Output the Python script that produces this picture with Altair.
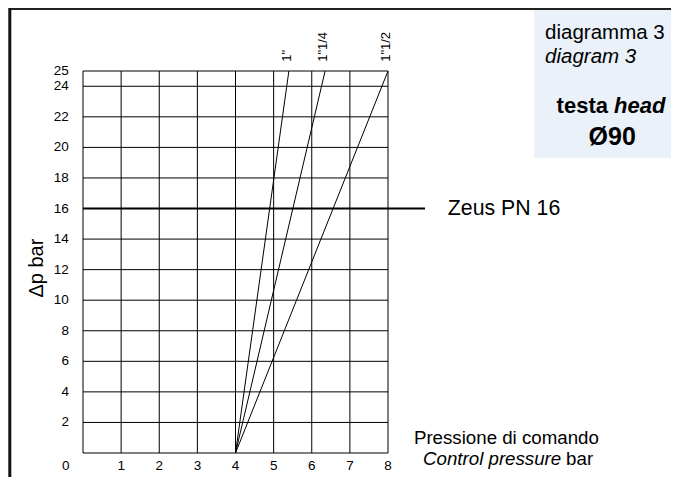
import altair as alt
import pandas as pd

# ---------------- data ----------------
x_grid = [0, 1, 2, 3, 4, 5, 6, 7, 8]
y_grid = [0, 2, 4, 6, 8, 10, 12, 14, 16, 18, 20, 22, 24, 25]
x_ticks = [0, 1, 2, 3, 4, 5, 6, 7, 8]
y_ticks = [2, 4, 6, 8, 10, 12, 14, 16, 18, 20, 22, 24, 25]

curve_names = ['1"', '1"1/4', '1"1/2']
curve_x0 = [4, 4, 4]
curve_y0 = [0, 0, 0]
curve_x1 = [5.4, 6.35, 8.0]
curve_y1 = [25, 25, 25]

zeus_level = 16
zeus_label = "Zeus PN 16"

FONT = "Liberation Sans"

# ---------------- geometry ----------------
W, H = 305, 382
PAD = {"left": 75, "top": 63, "right": 283, "bottom": 24}

xs = alt.Scale(domain=[0, 8], nice=False, zero=False)
ys = alt.Scale(domain=[0, 25], nice=False, zero=False)

# background box
box_df = pd.DataFrame({"x": [11.83], "x2": [16.5], "y": [19.31], "y2": [29.5]})
box = alt.Chart(box_df).mark_rect(color="#eaf1f8").encode(
    x=alt.X("x:Q", scale=xs, axis=None), x2="x2:Q",
    y=alt.Y("y:Q", scale=ys, axis=None), y2="y2:Q")

# frame lines
frame_v = alt.Chart(pd.DataFrame({"x": [-1.92], "y": [-3.0], "y2": [30.0]})).mark_rule(
    color="#111", strokeWidth=3).encode(
    x=alt.X("x:Q", scale=xs, axis=None), y=alt.Y("y:Q", scale=ys, axis=None), y2="y2:Q")
frame_h = alt.Chart(pd.DataFrame({"x": [-1.92], "x2": [16.5], "y": [29.07]})).mark_rule(
    color="#222", strokeWidth=2.5).encode(
    x=alt.X("x:Q", scale=xs, axis=None), x2="x2:Q", y=alt.Y("y:Q", scale=ys, axis=None))

# grid
vgrid = alt.Chart(pd.DataFrame({"x": x_grid})).mark_rule(color="#000", strokeWidth=1).encode(
    x=alt.X("x:Q", scale=xs, axis=None), y=alt.value(0), y2=alt.value(H))
hgrid = alt.Chart(pd.DataFrame({"y": y_grid})).mark_rule(color="#000", strokeWidth=1).encode(
    y=alt.Y("y:Q", scale=ys, axis=None), x=alt.value(0), x2=alt.value(W))

# tick labels (drawn from the tick arrays through the scales)
xlab = alt.Chart(pd.DataFrame({"v": x_ticks})).transform_calculate(
    lx="datum.v == 0 ? -0.45 : datum.v", ly="-0.85").mark_text(
    font=FONT, fontSize=13.5, align="center", baseline="middle", color="#000").encode(
    x=alt.X("lx:Q", scale=xs, axis=None), y=alt.Y("ly:Q", scale=ys, axis=None), text="v:N")
ylab = alt.Chart(pd.DataFrame({"v": y_ticks})).transform_calculate(
    lx="-0.37").mark_text(
    font=FONT, fontSize=13.5, align="right", baseline="middle", color="#000").encode(
    x=alt.X("lx:Q", scale=xs, axis=None), y=alt.Y("v:Q", scale=ys, axis=None), text="v:N")

# Zeus line
zeus = alt.Chart(pd.DataFrame({"x": [0], "x2": [8.97], "y": [zeus_level]})).mark_rule(
    color="#000", strokeWidth=2).encode(
    x=alt.X("x:Q", scale=xs, axis=None), x2="x2:Q", y=alt.Y("y:Q", scale=ys, axis=None))

# curves
curves_df = pd.DataFrame({"name": curve_names, "x0": curve_x0, "y0": curve_y0,
                          "x1": curve_x1, "y1": curve_y1})
curves = alt.Chart(curves_df).mark_rule(color="#000", strokeWidth=1).encode(
    x=alt.X("x0:Q", scale=xs, axis=None), y=alt.Y("y0:Q", scale=ys, axis=None), x2="x1:Q", y2="y1:Q")

curve_labels = alt.Chart(curves_df).transform_calculate(
    lx="datum.x1 - 0.05", ly="25.6").mark_text(
    angle=270, align="left", baseline="middle", font=FONT, fontSize=13, color="#000").encode(
    x=alt.X("lx:Q", scale=xs, axis=None), y=alt.Y("ly:Q", scale=ys, axis=None), text="name:N")


def txt(x, y, s, size, align="left", style="normal", weight="normal", angle=0, baseline="middle"):
    d = pd.DataFrame({"x": [x], "y": [y], "t": [s]})
    return alt.Chart(d).mark_text(font=FONT, fontSize=size, align=align, baseline=baseline,
                                  fontStyle=style, fontWeight=weight, angle=angle,
                                  color="#000").encode(
        x=alt.X("x:Q", scale=xs, axis=None), y=alt.Y("y:Q", scale=ys, axis=None), text="t:N")


texts = [
    txt(-1.21, 12.1, "Δp bar", 20, align="center", angle=270),
    txt(9.57, 16.0, zeus_label, 21.3),
    txt(12.12, 27.49, "diagramma 3", 20.5),
    txt(12.12, 25.92, "diagram 3", 20.5, style="italic"),
    txt(13.77, 22.70, "testa", 22, align="right", weight="bold"),
    txt(13.93, 22.70, "head", 22, align="left", weight="bold", style="italic"),
    txt(13.88, 20.70, "Ø90", 25, align="center", weight="bold"),
    txt(8.68, 0.98, "Pressione di comando", 18.7),
    txt(8.92, -0.39, "Control pressure", 18.7, style="italic"),
    txt(13.38, -0.39, "bar", 18.7, align="right"),
]

chart = alt.layer(box, frame_h, frame_v, vgrid, hgrid, zeus, curves, curve_labels,
                  xlab, ylab, *texts).properties(
    width=W, height=H, padding=PAD, autosize=alt.AutoSizeParams(type="none"),
    background="white"
).configure_view(stroke=None)

chart.save("out.html", embed_options={"renderer": "svg", "actions": False})
